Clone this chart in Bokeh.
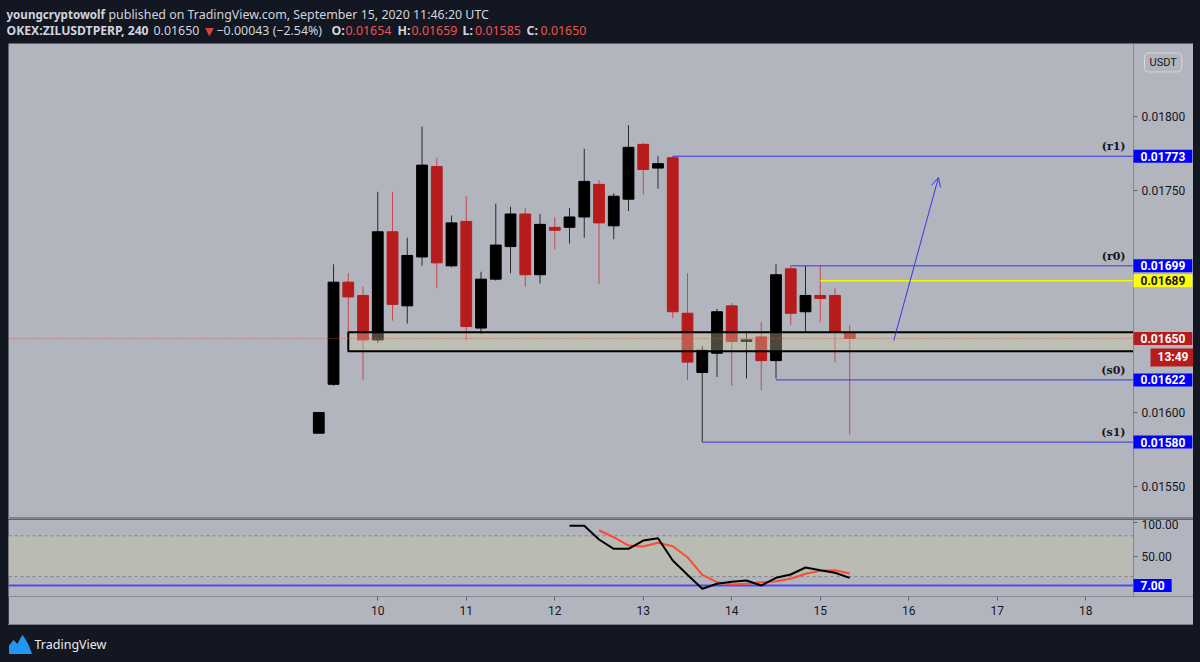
import pandas as pd
from bokeh.plotting import figure
from bokeh.models import (Range1d, FixedTicker, NumeralTickFormatter, Label,
                          Arrow, OpenHead, ColumnDataSource, Spacer)
from bokeh.layouts import column, row
from bokeh.embed import file_html
from bokeh.resources import INLINE
from bokeh.core.properties import value

# ---------------- data ----------------
times = pd.date_range("2020-09-09 08:00", periods=37, freq="4h")
opens = [0.01586, 0.01619, 0.01688, 0.01679, 0.01649, 0.01722, 0.01672, 0.01705, 0.01766, 0.01699,
         0.01729, 0.01657, 0.01690, 0.01712, 0.01734, 0.01693, 0.01725, 0.01725, 0.01732, 0.01754,
         0.01726, 0.01744, 0.01781, 0.01765, 0.01772, 0.01667, 0.01627, 0.01640, 0.01672, 0.01648,
         0.01651, 0.01635, 0.01697, 0.01668, 0.01679, 0.01679, 0.01654]
highs = [0.01600, 0.01700, 0.01694, 0.01685, 0.01749, 0.01749, 0.01718, 0.01793, 0.01772, 0.01733,
         0.01746, 0.01695, 0.01741, 0.01739, 0.01738, 0.01734, 0.01732, 0.01738, 0.01778, 0.01757,
         0.01748, 0.01794, 0.01782, 0.01773, 0.01773, 0.01694, 0.01645, 0.01670, 0.01674, 0.01655,
         0.01661, 0.01700, 0.01699, 0.01699, 0.01699, 0.01684, 0.01659]
lows = [0.01586, 0.01618, 0.01652, 0.01622, 0.01647, 0.01662, 0.01660, 0.01699, 0.01684, 0.01698,
        0.01649, 0.01653, 0.01689, 0.01694, 0.01685, 0.01687, 0.01710, 0.01714, 0.01718, 0.01687,
        0.01717, 0.01736, 0.01747, 0.01751, 0.01664, 0.01622, 0.01580, 0.01624, 0.01618, 0.01623,
        0.01615, 0.01623, 0.01659, 0.01654, 0.01661, 0.01634, 0.01585]
closes = [0.01600, 0.01688, 0.01678, 0.01649, 0.01722, 0.01673, 0.01706, 0.01767, 0.01701, 0.01728,
          0.01658, 0.01690, 0.01713, 0.01734, 0.01693, 0.01727, 0.01723, 0.01732, 0.01756, 0.01728,
          0.01746, 0.01779, 0.01764, 0.01768, 0.01668, 0.01634, 0.01642, 0.01668, 0.01648, 0.01649,
          0.01635, 0.01693, 0.01667, 0.01679, 0.01677, 0.01654, 0.01650]

stoch_k_start = 17
stoch_k = [94.7, 94.7, 74.6, 60.9, 60.9, 73.1, 76.5, 43.7, 22.6, 2.1,
           9.4, 12.4, 14.3, 6.9, 18.2, 23.1, 33.4, 29.4, 25.6, 18.2]
stoch_d_start = 19
stoch_d = [88.2, 77.9, 65.7, 64.3, 69.7, 64.7, 48.5, 22.6, 11.8, 8.4,
           9.4, 11.8, 13.2, 16.8, 24.1, 28.5, 29.4, 24.6]

level_names = ["(r1)", "(r0)", "(s0)", "(s1)"]
level_prices = [0.01773, 0.01699, 0.01622, 0.01580]
level_start = [24, 32, 31, 26]
yellow_price = 0.01689
yellow_start = 34
last_price = 0.01650
countdown = "13:49"
zone_top, zone_bottom, zone_start = 0.016542, 0.016413, 2
arrow_from = (15.831, 0.016486)
arrow_to = (16.336, 0.017586)
osc_bands = [80, 20]
osc_level = 7

price_ticks = [0.0155, 0.0160, 0.0165, 0.0170, 0.0175, 0.0180]
day_ticks = [10, 11, 12, 13, 14, 15, 16, 17, 18]
osc_ticks = [50, 100]

# ---------------- styling ----------------
PAGE = "#131722"
CHART = "#b2b5be"
BLUE_LINE = "#3535ea"
TAG_BLUE = "#0000ff"
RED_BODY = "#b71c1c"
RED_WICK = "#c9474a"
BLACK_WICK = "#2a2a2a"
X0 = 5.827        # left edge of chart (page x 8)
X_AXIS = 18.540   # price scale line (page x 1133)
XR = 19.218       # right edge of chart (page x 1193)
CW = 1185

xs = [t.day + t.hour / 24.0 for t in times]
up = [c >= o for o, c in zip(opens, closes)]
src = ColumnDataSource(dict(
    x=xs, high=highs, low=lows,
    top=[max(o, c) for o, c in zip(opens, closes)],
    bottom=[min(o, c) for o, c in zip(opens, closes)],
    body=["#000000" if u else RED_BODY for u in up],
    wick=[BLACK_WICK if u else RED_WICK for u in up],
))

def base_fig(width, height, y_range, x_range, **kw):
    f = figure(width=width, height=height, x_range=x_range, y_range=y_range,
               output_backend="svg", toolbar_location=None,
               min_border_left=0, min_border_top=0, min_border_bottom=0, min_border_right=0, **kw)
    f.grid.visible = False
    f.outline_line_color = None
    return f

def style_axis(ax):
    ax.axis_line_color = "#868993"
    ax.major_tick_line_color = "#5d606b"
    ax.major_tick_out = 4
    ax.major_tick_in = 0
    ax.minor_tick_line_color = None
    ax.major_label_text_color = "#131722"
    ax.major_label_text_font = "Roboto"
    ax.major_label_text_font_size = "12px"

def tag(fig, y, text, bg, fg, x_off=0, y_off=0):
    fig.add_layout(Label(x=X_AXIS, y=y, text=text, text_font="Roboto", text_font_size="12px",
                         text_font_style="bold", text_color=fg, text_align="left",
                         text_baseline="middle", background_fill_color=bg,
                         x_offset=x_off, y_offset=y_off,
                         padding=dict(left=7, right=7, top=2, bottom=2)))

# ---------------- header ----------------
hdr = base_fig(1200, 43, Range1d(43, 0), Range1d(0, 1200), x_axis_location=None, y_axis_location=None,
               background_fill_color=PAGE, border_fill_color=PAGE)
TXT = "#d1d4dc"
REDT = "#f05350"
hdr_items = [
    (6, 14, "youngcryptowolf", TXT, "bold", "11.6px"),
    (108, 14, "published on TradingView.com, September 15, 2020 11:46:20 UTC", TXT, "normal", "12.4px"),
    (6, 30, "OKEX:ZILUSDTPERP, 240", TXT, "bold", "12.2px"),
    (153, 30, "0.01650", TXT, "normal", "12.4px"),
    (216, 30, "\u22120.00043 (\u22122.54%)", TXT, "normal", "12.4px"),
    (331, 30, "O:", TXT, "bold", "12.4px"), (345, 30, "0.01654", REDT, "normal", "12.4px"),
    (397, 30, "H:", TXT, "bold", "12.4px"), (411, 30, "0.01659", REDT, "normal", "12.4px"),
    (462, 30, "L:", TXT, "bold", "12.4px"), (474.5, 30, "0.01585", REDT, "normal", "12.4px"),
    (526, 30, "C:", TXT, "bold", "12.4px"), (540, 30, "0.01650", REDT, "normal", "12.4px"),
]
for hx, hy, ht, hc, hs, hz in hdr_items:
    hdr.text(x=[hx], y=[hy], text=[ht], text_color=hc, text_font=value("Noto Sans"),
             text_font_size=hz, text_font_style=hs, text_baseline="middle", text_align="left")
hdr.text(x=[204.5], y=[30.5], text=["\u25bc"], text_color="#e0403c", text_font=value("DejaVu Sans"),
         text_font_size="11px", text_baseline="middle", text_align="left")

# ---------------- price pane ----------------
p = base_fig(CW, 474, Range1d(0.015291, 0.018491), Range1d(X0, XR), x_axis_location=None,
             y_axis_location="right", background_fill_color=CHART, border_fill_color=CHART)
ya = p.yaxis[0]
ya.fixed_location = X_AXIS
ya.ticker = FixedTicker(ticks=price_ticks)
ya.formatter = NumeralTickFormatter(format="0.00000")
style_axis(ya)
ya.major_label_standoff = 4

p.segment(x0="x", y0="high", x1="x", y1="low", line_color="wick", line_width=1, source=src)
p.vbar(x="x", width=0.122, top="top", bottom="bottom", fill_color="body", line_color="body",
       line_width=1, source=src)

p.quad(left=[xs[zone_start]], right=[X_AXIS + 0.2], top=[zone_top], bottom=[zone_bottom],
       fill_color="#d2d2a5", fill_alpha=0.35, line_color="#000000", line_width=2)
# keep the box inside the price area: cover the part beyond the scale line with chart colour
p.quad(left=[X_AXIS], right=[XR], top=[zone_top + 0.00003], bottom=[zone_bottom - 0.00003],
       fill_color=CHART, line_color=None)
p.segment(x0=[X0], y0=[last_price], x1=[X_AXIS], y1=[last_price], line_color="#d9534f",
          line_dash="1 2", line_width=1)

p.segment(x0=[xs[i] for i in level_start], y0=level_prices, x1=[X_AXIS] * 4, y1=level_prices,
          line_color=BLUE_LINE, line_width=1)
p.segment(x0=[xs[yellow_start]], y0=[yellow_price], x1=[X_AXIS], y1=[yellow_price],
          line_color="#f5f500", line_width=1.5)
p.text(x=[X_AXIS - 0.09] * 4, y=level_prices, text=level_names, text_align="right",
       text_baseline="bottom", y_offset=-3, text_color="#131722",
       text_font=value("DejaVu Serif"), text_font_style="bold", text_font_size="11px")

p.add_layout(Arrow(end=OpenHead(size=9, line_color=BLUE_LINE, line_width=1),
                   x_start=arrow_from[0], y_start=arrow_from[1], x_end=arrow_to[0], y_end=arrow_to[1],
                   line_color=BLUE_LINE, line_width=1))

for lp in level_prices:
    tag(p, lp, "%.5f" % lp, TAG_BLUE, "#ffffff")
tag(p, yellow_price, "%.5f" % yellow_price, "#ffff00", "#131722")
tag(p, last_price, "%.5f" % last_price, RED_BODY, "#ffffff")
tag(p, last_price, countdown, RED_BODY, "#ffffff", x_off=17, y_off=-19)
p.add_layout(Label(x=X_AXIS, y=0.018363, text="USDT", text_font="Roboto", text_font_size="11px",
                   text_color="#131722", text_align="left", text_baseline="middle",
                   x_offset=11, border_line_color="#d6d8de", border_line_width=1,
                   border_radius=4, padding=dict(left=5, right=5, top=3, bottom=3)))

sep = Spacer(width=CW, height=2, styles={"background-color": "#80838c"})
bottom_line = Spacer(width=CW, height=1, styles={"background-color": "#7a7d86"})

# ---------------- oscillator pane ----------------
o = base_fig(CW, 105, Range1d(-9.26, 104.0), p.x_range, y_axis_location="right",
             background_fill_color=CHART, border_fill_color=CHART)
o.min_border_bottom = 28
oy = o.yaxis[0]
oy.fixed_location = X_AXIS
oy.ticker = FixedTicker(ticks=osc_ticks)
oy.formatter = NumeralTickFormatter(format="0.00")
style_axis(oy)
oy.major_label_standoff = 4
ox = o.xaxis[0]
ox.ticker = FixedTicker(ticks=day_ticks)
style_axis(ox)
ox.major_label_standoff = 5

o.quad(left=[X0], right=[X_AXIS], top=[max(osc_bands)], bottom=[min(osc_bands)],
       fill_color="#babcb4", line_color=None)
o.segment(x0=[X0] * 2, y0=osc_bands, x1=[X_AXIS] * 2, y1=osc_bands, line_color="#7f828b",
          line_dash="3 3", line_width=1)
o.segment(x0=[X0], y0=[osc_level], x1=[X_AXIS], y1=[osc_level], line_color="#4c4ce6", line_width=2)
o.line(x=xs[stoch_d_start:stoch_d_start + len(stoch_d)], y=stoch_d, line_color="#ff4a33",
       line_width=2)
o.line(x=xs[stoch_k_start:stoch_k_start + len(stoch_k)], y=stoch_k, line_color="#000000",
       line_width=2)
tag(o, osc_level, "%.2f" % osc_level, TAG_BLUE, "#ffffff")

# ---------------- footer ----------------
ftr = base_fig(1200, 37, Range1d(662, 625), Range1d(0, 1200), x_axis_location=None,
               y_axis_location=None, background_fill_color=PAGE, border_fill_color=PAGE)
ftr.patch(x=[9, 9, 13, 17, 22, 27, 31], y=[653, 645, 640, 644, 635, 643, 653], fill_color="#2196f3",
          line_color="#2196f3")
ftr.text(x=[34], y=[644], text=["TradingView"], text_color="#e8eaf0", text_font=value("Noto Sans"),
         text_font_size="12.5px", text_baseline="middle")

def padded(item):
    return row(Spacer(width=8, height=item.height), item, Spacer(width=7, height=item.height), spacing=0)

layout = column(hdr, padded(p), padded(sep), padded(o), padded(bottom_line), ftr, spacing=0)
html = file_html(layout, INLINE, title="ZILUSDTPERP")
html = html.replace("<body>", '<body style="background-color:#131722;">')
open("out.html", "w").write(html)
